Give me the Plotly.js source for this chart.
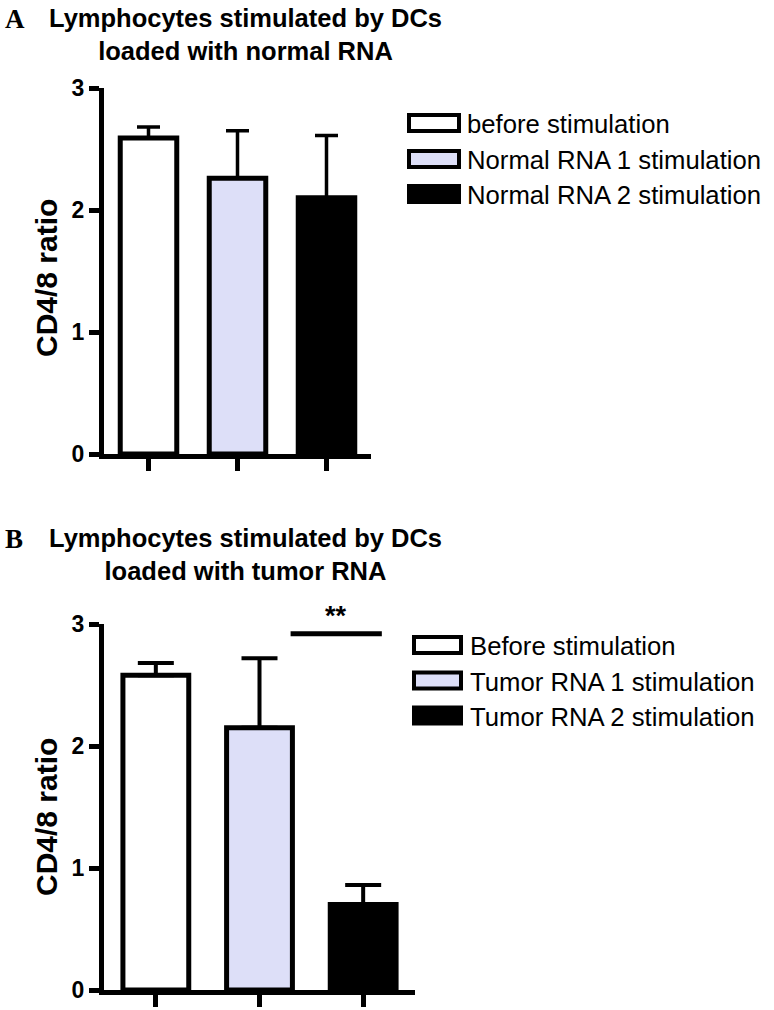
<!DOCTYPE html>
<html><head><meta charset="utf-8">
<script src="https://cdn.plot.ly/plotly-3.0.1.min.js"></script>
<style>html,body{margin:0;padding:0;background:#fff}#chart{width:774px;height:1010px}</style>
</head><body><div id="chart"></div>
<script>
// ---- data ----
const groupsA = ['before stimulation', 'Normal RNA 1 stimulation', 'Normal RNA 2 stimulation'];
const meansA = [2.59, 2.26, 2.10];
const errA = [0.09, 0.39, 0.51];
const groupsB = ['Before stimulation', 'Tumor RNA 1 stimulation', 'Tumor RNA 2 stimulation'];
const meansB = [2.58, 2.15, 0.70];
const errB = [0.10, 0.57, 0.16];
const barColors = ['#ffffff', '#dddff8', '#000000'];
const yTicks = [0, 1, 2, 3];
const titleA = 'Lymphocytes stimulated by DCs<br>loaded with normal RNA';
const titleB = 'Lymphocytes stimulated by DCs<br>loaded with tumor RNA';
const panelLabels = ['A', 'B'];
const yTitle = 'CD4/8 ratio';
const sigLabel = '**';
const sigY = 2.92;
const sigFrom = 1.3, sigTo = 2.18;

// ---- layout helpers ----
const W = 774, H = 1010;
const px = v => v / W;
const py = v => 1 - v / H;
const FONT = 'Liberation Sans, Arial, sans-serif';

function barTrace(groups, means, errs, xa, ya, capHalf, thick) {
  return {
    type: 'bar', x: [0, 1, 2], y: means, xaxis: xa, yaxis: ya,
    width: 0.635, showlegend: false, hoverinfo: 'skip',
    text: groups, textposition: 'none',
    marker: { color: barColors, line: { color: '#000', width: 5 } },
    error_y: { type: 'data', array: errs, arrayminus: [0, 0, 0], symmetric: false,
               color: '#000', thickness: thick, width: capHalf }
  };
}

const data = [
  barTrace(groupsA, meansA, errA, 'x', 'y', 11.5, 3.5),
  barTrace(groupsB, meansB, errB, 'x2', 'y2', 18, 4)
];

function xAx(dom) {
  return { domain: dom, range: [-0.5, 2.5], showline: true, linecolor: '#000', linewidth: 5,
           ticks: 'outside', ticklen: 12, tickwidth: 5, tickcolor: '#000',
           tickvals: [0, 1, 2], showticklabels: false, showgrid: false, zeroline: false, fixedrange: true };
}
function yAx(dom, anchor) {
  return { domain: dom, anchor: anchor, range: [0, 3], showline: true, linecolor: '#000', linewidth: 5,
           ticks: 'outside', ticklen: 10, tickwidth: 5, tickcolor: '#000', tickvals: yTicks,
           tickfont: { family: FONT, size: 23, color: '#000', weight: 'bold' },
           showgrid: false, zeroline: false, fixedrange: true };
}

const legendRows = [
  { names: groupsA, boxX: [407, 461], textX: 465, rows: [123, 159, 194] },
  { names: groupsB, boxX: [412, 463], textX: 468, rows: [645, 680.5, 715.5] }
];

const shapes = [];
const annotations = [];
legendRows.forEach(L => {
  L.names.forEach((nm, i) => {
    const cy = L.rows[i];
    shapes.push({ type: 'rect', xref: 'paper', yref: 'paper',
      x0: px(L.boxX[0] + 2), x1: px(L.boxX[1] - 2), y0: py(cy + 8), y1: py(cy - 8),
      fillcolor: barColors[i], line: { color: '#000', width: 4 } });
    annotations.push({ xref: 'paper', yref: 'paper', x: px(L.textX), y: py(cy + 1),
      xanchor: 'left', yanchor: 'middle', showarrow: false, text: nm,
      font: { family: FONT, size: 25.7, color: '#000' } });
  });
});

// significance bar
shapes.push({ type: 'line', xref: 'x2', yref: 'y2', x0: sigFrom, x1: sigTo, y0: sigY, y1: sigY,
  line: { color: '#000', width: 5 } });
annotations.push({ xref: 'x2', yref: 'paper', x: (sigFrom + sigTo) / 2, y: py(633),
  xanchor: 'center', yanchor: 'bottom', showarrow: false, text: sigLabel,
  font: { family: FONT, size: 27, color: '#000', weight: 'bold' } });

// titles
[[titleA, 2], [titleB, 522]].forEach(([t, top]) => {
  annotations.push({ xref: 'paper', yref: 'paper', x: px(245), y: py(top), xanchor: 'center', yanchor: 'top',
    showarrow: false, text: t, align: 'center',
    font: { family: FONT, size: 25.5, color: '#000', weight: 'bold' } });
});
[[panelLabels[0], 2], [panelLabels[1], 522]].forEach(([t, top]) => {
  annotations.push({ xref: 'paper', yref: 'paper', x: px(3), y: py(top), xanchor: 'left', yanchor: 'top',
    showarrow: false, text: t,
    font: { family: 'Liberation Serif, Times New Roman, serif', size: 27, color: '#000', weight: 'bold' } });
});
// y axis titles
[278, 817].forEach(cy => {
  annotations.push({ xref: 'paper', yref: 'paper', x: px(46), y: py(cy), xanchor: 'center', yanchor: 'middle',
    showarrow: false, text: yTitle, textangle: -90,
    font: { family: FONT, size: 30, color: '#000', weight: 'bold' } });
});

const layout = {
  width: W, height: H, margin: { l: 0, r: 0, t: 0, b: 0 },
  paper_bgcolor: '#fff', plot_bgcolor: 'rgba(0,0,0,0)',
  showlegend: false,
  xaxis: xAx([px(104), px(371)]),
  yaxis: yAx([py(454), py(88)], 'x'),
  xaxis2: Object.assign(xAx([px(104), px(415)]), { anchor: 'y2' }),
  yaxis2: yAx([py(990), py(624)], 'x2'),
  shapes: shapes, annotations: annotations
};
layout.xaxis.anchor = 'y';

Plotly.newPlot('chart', data, layout, { displayModeBar: false, staticPlot: true });
</script>
</body></html>
